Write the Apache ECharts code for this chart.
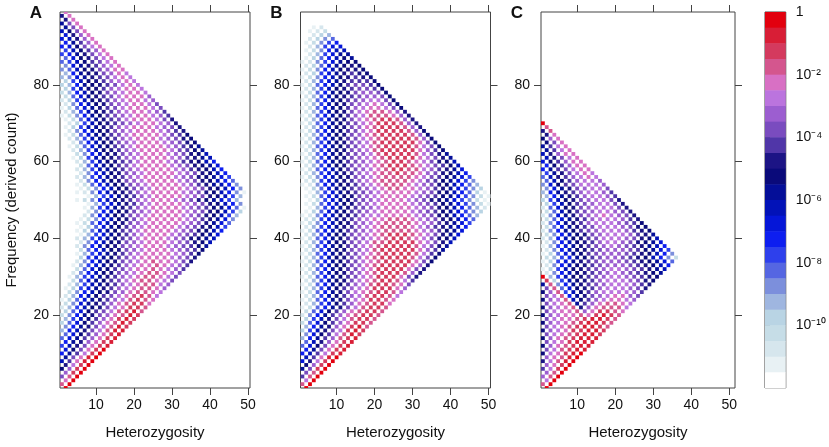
<!DOCTYPE html>
<html lang="en">
<head>
<meta charset="UTF-8">
<title>Frequency vs heterozygosity</title>
<style>
  html, body { margin: 0; padding: 0; background: #fff; }
  #chart { width: 829px; height: 447px; }
</style>
<script src="https://cdn.jsdelivr.net/npm/echarts@6/dist/echarts.min.js"></script>
</head>
<body>
<div id="chart"></div>
<script>
// one string per derived count (1..99), one char per heterozygosity cell
// (het = count%2, +2, +4 ...). char = colour band in base 36:
// 0 = [1, 10^-0.5], 1 = next half decade ... n = below the scale (white)
var panelA = [
  "0", "30", "40", "730", "620", "a620", "9520", "c8410", "b7410", "eb8520",
  "da7420", "fc97421", "eb96421", "gdb86421", "gda86421", "iec975311", "heb975312", "jgda864312", "ifca864212", "kheb9764312",
  "jgda8753213", "lifca9754223", "khdb98643224", "mjgdb98653234", "lieca87543235", "nkheca97643345", "mjfdb986543346", "nlifcb986543356", "nkgdba875433457", "nmifdb9865433457",
  "nlheca9765433457", "nnkgdba8754434568", "nmifdb98654434568", "nnlheca97654344579", "nnjfdba87544445679", "nnmifdb98654444568a", "nnkgeca97654445678a", "nnlheca97654445678ab", "nnlheca97654445679ac", "nnlifdba8754445679abc",
  "nnmifdb98654445678abd", "nnmjgdba87544445679ace", "nnmjgdba86544445679acf", "nnmkgeca976544445679bdg", "nnmkheca975444445689bdh", "nnnlheca976544445679acfi", "nnnlheca976544445679acfj", "nnnmifdb986544445678abdgm", "nnnmifdb986544445679acehn", "nnmkheca98654445679abdfinn",
  "nnnmifdb986544445679acfin", "nnmlheca986544445679acehm", "nnmkheca976544445679aceh", "nnmkgeca976544445689bceh", "nnlheca976544445679aceg", "nnlifdb986544445679abdf", "nnlheca976544445679ace", "nnlifcb986544445689ace", "nnkgdba87544445679abd", "nnlifca98754445689ace",
  "nmjfca986544445689bc", "nnkheca97654445679ac", "nlifca98654444578ab", "nmkgdba87544445689b", "nlheca97654445679a", "nlifcb98654445679a", "mkgdba8754444578a", "nlheca97654445689", "mjfcb98654445679", "nljfca9876544569",
  "mkgdb9875444579", "mkheba876544568", "lifca986544568", "mjgdb987544457", "lheca97654457", "ljfca98654456", "kgdb98754446", "kieca9765445", "jfca9865445", "jieba987545",
  "jfca986545", "ihdb987545", "ieba97645", "hgca97644", "hdb98654", "gfca8754", "gda9754", "feb9754", "fca864", "eda754",
  "eb864", "dc964", "d964", "ca74", "b74", "b74", "94", "94", "4"
];
var panelB = [
  "0", "30", "50", "830", "730", "b720", "a620", "d9520", "c8410", "ec8521",
  "eb7421", "gda7421", "gc96421", "ieb86321", "hda85312", "jfc975212", "ieb964213", "kgda864223", "jfc9753223", "lheb8643223",
  "kgda8643223", "mkgeb9753223", "lifda8643224", "mkgeb97542234", "lifca86532235", "mkgeb975432235", "lifca865422246", "mkgeba865322347", "lifca9754322358", "mkgeba8754222479",
  "lifca97643222369", "mkgeba87542222479", "lifca976432222469", "mkgeba87543222247a", "lifca976432222357a", "mkgeba875432222358a", "lifca9765322222468b", "mkgeba8754322223579b", "lifca97653322224579c", "mkgeba8765432234579ac",
  "lifca97654322234579bd", "mkgeca8765433334568abd", "lifdb98654333345689bce", "mkheca97654333345689bdf", "ljfdb98654433345679aceg", "mlheca9865544445679acegi", "mjgdba876544445678abdfhj", "nmifdb9876544445679acegil", "mkgeca976544445678abdfhkm", "nmjfdba87654445679abdfhkm",
  "mkgeca976544445678abdfhkm", "nmifdb9876544445679acegjm", "mjgdba8765433445689bdfhj", "mlheca9865433345679acegi", "ljfdb9865433334578abdfh", "mkheca9765433334578abdf", "lifdb98654332334679ace", "mkgeca87654322335689bd", "lifca97654322234578ac", "mkgeba8765432234579ac",
  "lifca97654322224579b", "mkgeba8765322223579b", "lifca9765322222468a", "mkgeba875432222357a", "lifca976532222247a", "mkgeba87543222236a", "lifca97643222236a", "mkgeba8754222236a", "lifca97643222369", "mkgeba8754222369",
  "lifca9754322369", "mkgeba865333469", "lifca975433469", "mkgeba8654457a", "lifca9765457a", "mkgeba876557a", "lifca987667a", "mkgeba97667a", "lifca98778a", "mkgeca8778a",
  "lifdb9888a", "mkheca989a", "ljfdb989a", "mkheca99a", "ljgdba9a", "mlhfdbaa", "mjgecab", "nlifdbb", "mkhecc", "nlifdd",
  "mkhfe", "nljhg", "nlji", "nmlk", "nml", "", "", "", ""
];
var panelC = [
  "0", "30", "50", "630", "630", "8520", "6420", "95310", "64310", "a54210",
  "753211", "a643211", "7542111", "a6432111", "75432112", "a65422112", "754321123", "a654321123", "7544321123", "a6544342123",
  "75443642234", "a65439643335", "7543b8643345", "a653ca8654456", "753eb97654467", "a63fca86555568", "73gda986555679", "b3heb9876555689", "2jfca986555679a", "0ifca9876556789a",
  "lheca987656789ab", "mjfca9876556789bc", "lheca987666789ace", "mjfdb987666789abdg", "kifeba8766789acehk", "mjgdba87666789aceh", "lheca98766678abdf", "mifdb987656789bce", "lheca98655679abd", "lieca987555679ac",
  "kheca976555689b", "lheba876555689a", "kgdb987555679a", "lheb986555678a", "kgdb986555689", "lhdb976545679", "kgca87655679", "lgda97655579", "jfca8765579", "jfca9765579",
  "ieb9865568", "ieb9865568", "hdb976557", "hda875556", "gca86556", "gc986545", "fb97545", "eb87544", "ea8644", "da8644",
  "c9754", "c9644", "b854", "b854", "a74", "a64", "94", "93", "3", "0"
];
var hetTicks = [10, 20, 30, 40, 50];
var freqTicks = [20, 40, 60, 80];
var barTicks = [0, -2, -4, -6, -8, -10];
var barLabels = ["1", "10\u207b\u00b2", "10\u207b\u2074", "10\u207b\u2076", "10\u207b\u2078", "10\u207b\u00b9\u2070"];
var bandColors = [
  '#e2000e', '#d81e36', '#d43a5e', '#d4568e', '#d870c4', '#bb74de', '#9c5ed0', '#7a4cbf',
  '#5036a8', '#1c1485', '#0a0a7a', '#040e98', '#0212b8', '#0516d8', '#0d1ef0', '#2e40ec',
  '#5566e2', '#7c8fdc', '#9fb6e0', '#b9d4e4', '#c6dde7', '#d6e6ed', '#e8f1f4', '#ffffff'
];

var FONT = 'Liberation Sans, Arial, sans-serif';
var AX = '#444';
var panels = [
  { rows: panelA, left: 60, width: 190, xmax: 50.5, letter: 'A' },
  { rows: panelB, left: 300.5, width: 190, xmax: 50.5, letter: 'B' },
  { rows: panelC, left: 541, width: 194, xmax: 51.5, letter: 'C' }
];

function cells(rows, xmax) {
  var out = [];
  rows.forEach(function (row, i) {
    var f = i + 1;
    for (var k = 0; k < row.length; k++) {
      var lvl = parseInt(row[k], 36);
      var x = (f % 2) + 2 * k + 1;   // plotted column = het + 1
      if (lvl >= 23 || x > xmax) continue;
      out.push([x, f, -(lvl + 0.5) / 2, lvl]);
    }
  });
  return out;
}

function renderCell(params, api) {
  var c = api.coord([api.value(0), api.value(1)]);
  var s = api.size([1, 1]);
  var cs = params.coordSys;
  var r = echarts.graphic.clipRectByRect(
    { x: c[0] - s[0] / 2, y: c[1] - s[1] / 2, width: s[0], height: s[1] },
    { x: cs.x, y: cs.y, width: cs.width, height: cs.height });
  if (!r) return;
  return { type: 'rect', shape: r, style: { fill: bandColors[api.value(3)] } };
}

function renderBand(params, api) {
  var p0 = api.coord([0, api.value(1)]);
  var p1 = api.coord([1, api.value(0)]);
  return { type: 'rect', shape: { x: p0[0], y: p0[1], width: p1[0] - p0[0], height: p1[1] - p0[1] + 0.5 },
    style: { fill: bandColors[api.value(2)] } };
}

function tickStyle(vals) {
  return { show: true, length: 7, customValues: vals, lineStyle: { color: AX, width: 1 } };
}

var grids = [], xAxes = [], yAxes = [], series = [], graphics = [];

panels.forEach(function (p, i) {
  grids.push({ left: p.left, top: 12, width: p.width, height: 376, show: true,
    borderColor: AX, borderWidth: 1, backgroundColor: 'transparent' });
  ['bottom', 'top'].forEach(function (pos) {
    xAxes.push({ type: 'value', gridIndex: i, position: pos, min: 0.5, max: p.xmax,
      axisLine: { show: false }, splitLine: { show: false }, axisTick: tickStyle(hetTicks),
      axisLabel: { show: pos === 'bottom', customValues: hetTicks, margin: 10, color: '#111', fontSize: 14, fontFamily: FONT } });
  });
  ['left', 'right'].forEach(function (pos) {
    yAxes.push({ type: 'value', gridIndex: i, position: pos, min: 1, max: 99,
      axisLine: { show: false }, splitLine: { show: false }, axisTick: tickStyle(freqTicks),
      axisLabel: { show: pos === 'left', customValues: freqTicks, margin: 11, color: '#111', fontSize: 14, fontFamily: FONT } });
  });
  series.push({ type: 'custom', xAxisIndex: 2 * i, yAxisIndex: 2 * i, renderItem: renderCell,
    data: cells(p.rows, p.xmax - 0.5), silent: true, animation: false });
  graphics.push({ type: 'text', x: p.left + p.width / 2, y: 433, style: { text: 'Heterozygosity',
    font: '15px ' + FONT, fill: '#111', textAlign: 'center', textVerticalAlign: 'middle' } });
  graphics.push({ type: 'text', x: p.left - 24, y: 13, style: { text: p.letter,
    font: 'bold 17px ' + FONT, fill: '#111', textAlign: 'center', textVerticalAlign: 'middle' } });
});

// colour key
grids.push({ left: 765, top: 12, width: 22, height: 376, show: true, borderColor: AX, borderWidth: 1, backgroundColor: 'transparent' });
xAxes.push({ type: 'value', gridIndex: 3, min: 0, max: 1, show: false });
yAxes.push({ type: 'value', gridIndex: 3, position: 'right', min: -12, max: 0,
  axisLine: { show: false }, splitLine: { show: false },
  axisTick: { show: true, length: 5, customValues: barTicks, lineStyle: { color: AX } },
  axisLabel: { show: true, customValues: barTicks, margin: 10, color: '#111', fontSize: 14, fontFamily: FONT,
    showMinLabel: true, showMaxLabel: true,
    formatter: function (v) { return barLabels[barTicks.indexOf(Math.round(v))] || ''; } } });
series.push({ type: 'custom', xAxisIndex: 6, yAxisIndex: 6, renderItem: renderBand, silent: true, animation: false,
  data: bandColors.map(function (c, i) { return [-(i + 1) / 2, -i / 2, i]; }) });

graphics.push({ type: 'text', x: 12, y: 200, rotation: Math.PI / 2, style: { text: 'Frequency (derived count)',
  font: '15px ' + FONT, fill: '#111', textAlign: 'center', textVerticalAlign: 'middle' } });

var chart = echarts.init(document.getElementById('chart'), null, { renderer: 'canvas' });
chart.setOption({
  animation: false,
  backgroundColor: '#fff',
  grid: grids,
  xAxis: xAxes,
  yAxis: yAxes,
  series: series,
  graphic: graphics
});
</script>
</body>
</html>
